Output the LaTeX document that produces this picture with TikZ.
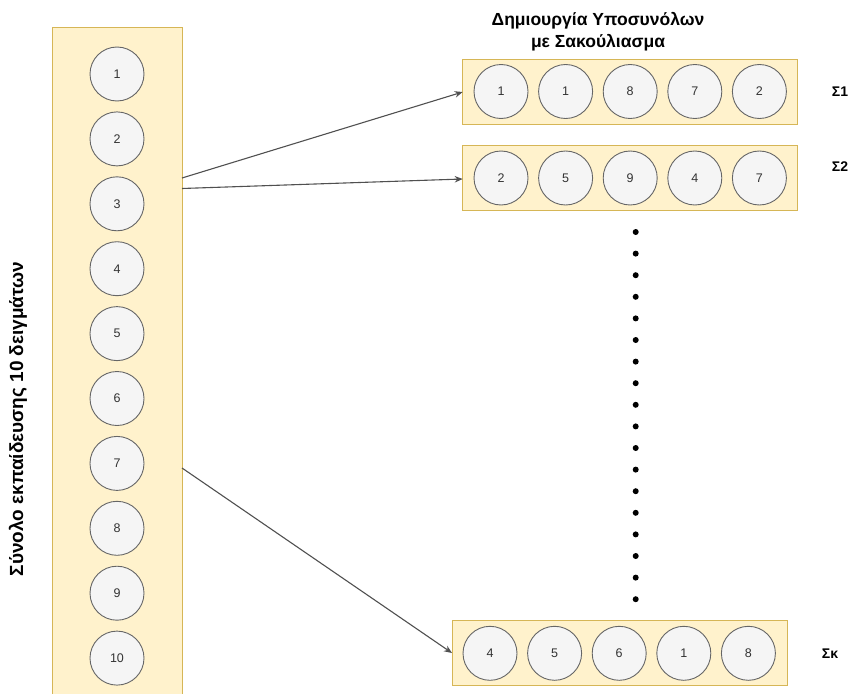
\documentclass[tikz,border=0pt]{standalone}
\usepackage{fontspec}
\setmainfont{Liberation Sans}
\usetikzlibrary{arrows.meta}
\definecolor{boxfill}{HTML}{FFF2CC}
\definecolor{boxline}{HTML}{D6B656}
\definecolor{ballfill}{HTML}{F5F5F5}
\definecolor{ballline}{HTML}{666666}
\definecolor{balltext}{HTML}{333333}
\definecolor{linkcol}{HTML}{505050}
\tikzset{
  setbox/.style={draw=boxline, fill=boxfill, line width=0.9pt},
  ball/.style={circle, draw=ballline, fill=ballfill, line width=0.9pt,
    minimum size=54pt, inner sep=0pt, text=balltext, font=\fontsize{12.5}{14}\selectfont},
  tag/.style={font=\bfseries\fontsize{14}{16}\selectfont},
  link/.style={draw=linkcol, line width=1.1pt, -{Stealth[length=8pt,width=6.5pt]}},
  dotmark/.style={circle, fill=black, inner sep=0pt, minimum size=6pt}
}
\begin{document}
\begin{tikzpicture}[x=1pt,y=-1pt]
\useasboundingbox (0,0) rectangle (853,693);

% training set column
\draw[setbox] (52,27) rectangle (182,700);
\foreach \i in {1,...,10} {
  \node[ball] (s\i) at (117,{74+64.9*(\i-1)}) {\i};
}
\node[rotate=90, font=\bfseries\fontsize{19}{22}\selectfont] (settitle) at (18,419)
  {Σύνολο εκπαίδευσης 10 δειγμάτων};

% title of the bootstrap subsets
\node[align=center, font=\bfseries\fontsize{17.5}{22}\selectfont] (title) at (598,32)
  {Δημιουργία Υποσυνόλων\\με Σακούλιασμα};

% subset 1
\draw[setbox] (462.7,59.3) rectangle (797.7,124.3);
\node[coordinate] (in1) at (462.7,92) {};
\foreach \v [count=\k] in {1,1,8,7,2} {
  \node[ball] (a\k) at ({501+64.6*(\k-1)},91.5) {\v};
}
\node[tag] (l1) at (840,91.5) {Σ1};

% subset 2
\draw[setbox] (462.7,145.7) rectangle (797.7,210.7);
\node[coordinate] (in2) at (462.7,179) {};
\foreach \v [count=\k] in {2,5,9,4,7} {
  \node[ball] (b\k) at ({501+64.6*(\k-1)},178) {\v};
}
\node[tag] (l2) at (840,166.5) {Σ2};

% subset k
\draw[setbox] (452,620.7) rectangle (787.3,685.7);
\node[coordinate] (ink) at (452,653) {};
\foreach \v [count=\k] in {4,5,6,1,8} {
  \node[ball] (c\k) at ({490+64.6*(\k-1)},653.3) {\v};
}
\node[tag] (lk) at (830,653.3) {Σκ};

% vertical ellipsis
\foreach \j in {0,...,17} {
  \node[dotmark] (d\j) at (635.7,{232+21.6*\j}) {};
}

% connectors
\node[coordinate] (o1) at (182,178) {};
\node[coordinate] (o2) at (182,188.5) {};
\node[coordinate] (o3) at (182,468) {};
\draw[link] (o1) -- (in1);
\draw[link] (o2) -- (in2);
\draw[link] (o3) -- (ink);
\end{tikzpicture}
\end{document}
